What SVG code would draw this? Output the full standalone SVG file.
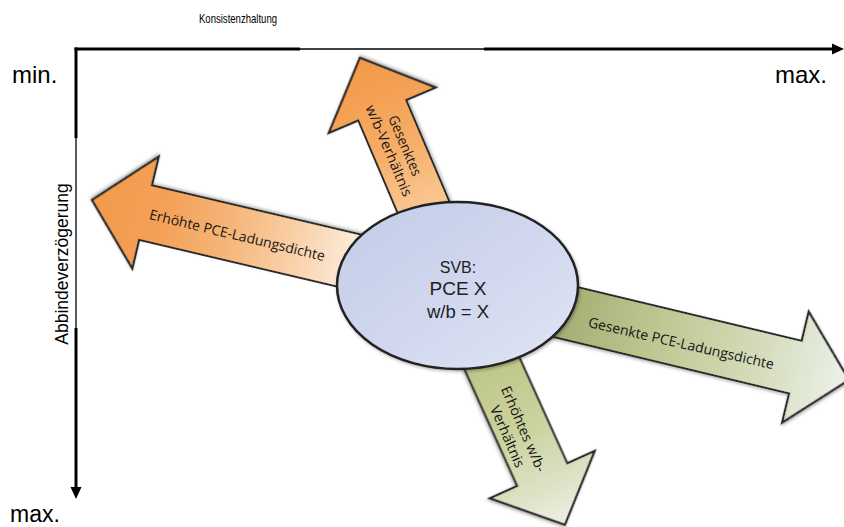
<svg xmlns="http://www.w3.org/2000/svg" width="844" height="527" viewBox="0 0 844 527">
<defs>
<style>
.ax{stroke:#000;fill:none}
.thick{stroke-width:3}
.thin{stroke-width:1.3}
.arrow{stroke:#2a2a2a;stroke-width:2.2;stroke-linejoin:miter;filter:url(#sh)}
.lbl{font-family:"Liberation Sans",Arial,sans-serif;fill:#000}
.atxt{font-family:"Open Sans","Noto Sans",sans-serif;font-size:14px;fill:#151515;text-anchor:middle}
.etxt{font-family:"Liberation Sans",Arial,sans-serif;fill:#222;text-anchor:middle}
</style>
<filter id="sh" x="-10%" y="-20%" width="120%" height="140%">
<feDropShadow dx="1" dy="1.5" stdDeviation="1.6" flood-color="#000" flood-opacity="0.3"/>
</filter>
<linearGradient id="gOrL" x1="0" y1="0" x2="1" y2="0">
<stop offset="0.3" stop-color="#fce8d6"/>
<stop offset="0.45" stop-color="#f9d0a8"/>
<stop offset="0.62" stop-color="#f6b679"/>
<stop offset="0.8" stop-color="#f4a159"/>
<stop offset="1" stop-color="#f39a4a"/>
</linearGradient>
<linearGradient id="gOrU" x1="0" y1="0" x2="1" y2="0">
<stop offset="0.35" stop-color="#f9c792"/>
<stop offset="0.6" stop-color="#f6ae68"/>
<stop offset="0.85" stop-color="#f49f52"/>
<stop offset="1" stop-color="#f39a4a"/>
</linearGradient>
<linearGradient id="gGrR" x1="0" y1="0" x2="1" y2="0">
<stop offset="0.29" stop-color="#a7b076"/>
<stop offset="0.5" stop-color="#bec690"/>
<stop offset="0.75" stop-color="#d3dab7"/>
<stop offset="0.9" stop-color="#e2e8d6"/>
<stop offset="1" stop-color="#eef1ea"/>
</linearGradient>
<linearGradient id="gGrD" x1="0" y1="0" x2="1" y2="0">
<stop offset="0.33" stop-color="#bfc78a"/>
<stop offset="0.6" stop-color="#cbd29e"/>
<stop offset="0.85" stop-color="#dde3c7"/>
<stop offset="1" stop-color="#edf0e6"/>
</linearGradient>
<linearGradient id="gEl" x1="0" y1="0" x2="1" y2="1">
<stop offset="0" stop-color="#c2cbe7"/>
<stop offset="0.5" stop-color="#d0d7ee"/>
<stop offset="1" stop-color="#e0e5f4"/>
</linearGradient>
</defs>

<g id="axes">
<line class="ax thick" x1="74.5" y1="49" x2="300" y2="49"/>
<line class="ax thin" x1="300" y1="49" x2="484" y2="49"/>
<line class="ax thick" x1="484" y1="49" x2="834" y2="49"/>
<polygon points="832,43.5 844,49 832,54.5" fill="#000"/>
<line class="ax thick" x1="76" y1="47.5" x2="76" y2="138"/>
<line class="ax thin" x1="76" y1="138" x2="76" y2="328"/>
<line class="ax thick" x1="76" y1="328" x2="76" y2="489"/>
<polygon points="70.5,487 76,499 81.5,487" fill="#000"/>
<text class="lbl" x="238" y="23" font-size="13" text-anchor="middle" textLength="78" lengthAdjust="spacingAndGlyphs">Konsistenzhaltung</text>
<text class="lbl" x="12" y="83" font-size="24">min.</text>
<text class="lbl" x="775" y="83" font-size="24">max.</text>
<text class="lbl" x="10" y="522" font-size="23">max.</text>
<text class="lbl" transform="translate(68,264) rotate(-90)" font-size="17.5" text-anchor="middle">Abbindeverzögerung</text>
</g>

<g id="connectors">
<g id="arrow-left">
<path class="arrow" fill="url(#gOrL)" transform="translate(457,286) rotate(193.26)" d="M0,-28 H320 V-57.5 L375,0 L320,57.5 V28 H0 Z"/>
<text class="atxt" transform="translate(236,240) rotate(13.5)" textLength="180" lengthAdjust="spacingAndGlyphs">Erhöhte PCE-Ladungsdichte</text>
</g>
<g id="arrow-up">
<path class="arrow" fill="url(#gOrU)" transform="translate(457,286) rotate(246.95)" d="M0,-26 H191 V-58 L248,0 L191,58 V26 H0 Z"/>
<text class="atxt" transform="translate(400.5,147.5) rotate(67)" textLength="64" lengthAdjust="spacingAndGlyphs">Gesenktes</text>
<text class="atxt" transform="translate(384.5,152.5) rotate(67)" textLength="98" lengthAdjust="spacingAndGlyphs">w/b-Verhältnis</text>
</g>
<g id="arrow-right">
<path class="arrow" fill="url(#gGrR)" transform="translate(457,286) rotate(13.48)" d="M0,-27 H348 V-57 L403,0 L348,57 V27 H0 Z"/>
<text class="atxt" transform="translate(680,348) rotate(13)" textLength="190" lengthAdjust="spacingAndGlyphs">Gesenkte PCE-Ladungsdichte</text>
</g>
<g id="arrow-down">
<path class="arrow" fill="url(#gGrD)" transform="translate(457,286) rotate(65.68)" d="M0,-27.5 H207 V-57.5 L262,0 L207,57.5 V27.5 H0 Z"/>
<text class="atxt" transform="translate(519,431) rotate(66.5)" textLength="92" lengthAdjust="spacingAndGlyphs">Erhöhtes w/b-</text>
<text class="atxt" transform="translate(503,438.5) rotate(66.5)" textLength="66" lengthAdjust="spacingAndGlyphs">Verhältnis</text>
</g>
</g>

<g id="svb">
<ellipse cx="457.5" cy="285.5" rx="120.5" ry="83.5" fill="url(#gEl)" stroke="#222" stroke-width="2.5" filter="url(#sh)"/>
<text class="etxt" x="458" y="273" font-size="16">SVB:</text>
<text class="etxt" x="458" y="294.5" font-size="19">PCE X</text>
<text class="etxt" x="458" y="317.5" font-size="18.5">w/b = X</text>
</g>
</svg>
